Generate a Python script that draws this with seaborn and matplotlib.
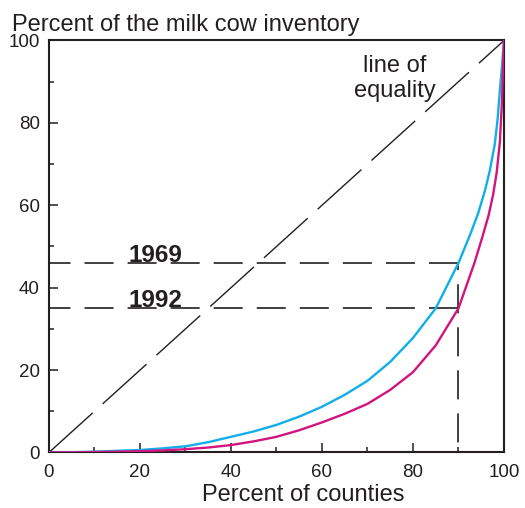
import matplotlib
matplotlib.use("Agg")
import matplotlib.pyplot as plt
import seaborn as sns
import pandas as pd

# Lorenz curves of the milk cow inventory across counties
pct_counties_1969 = [0, 5, 10, 15, 20, 25, 30, 35, 40, 45, 50, 55, 60, 65, 70, 75, 80, 85,
                     90, 92.6, 94.3, 95.8, 96.9, 98, 98.6, 99.1, 99.5, 100]
pct_inventory_1969 = [0, 0.05, 0.2, 0.4, 0.6, 1.0, 1.5, 2.5, 3.8, 5.1, 6.7, 8.7, 11.1, 14, 17.4,
                      22, 27.8, 35, 46, 53, 58, 63.5, 68.5, 75, 81, 88, 93, 100]

pct_counties_1992 = [0, 5, 10, 15, 20, 25, 30, 35, 40, 45, 50, 55, 60, 65, 70, 75, 80, 85,
                     90, 93.5, 95.3, 96.6, 97.6, 98.4, 99.1, 99.5, 100]
pct_inventory_1992 = [0, 0.02, 0.1, 0.2, 0.3, 0.5, 0.8, 1.2, 1.8, 2.7, 3.8, 5.4, 7.3, 9.4, 11.8,
                      15.2, 19.5, 26, 35, 46, 52.5, 57.5, 62.5, 68, 75.5, 84, 100]

years = ["1969", "1992"]
cutoff_counties = 90
share_at_cutoff = [46, 35]   # inventory share held below the 90th percentile of counties
tick_values = [0, 20, 40, 60, 80, 100]
minor_ticks = [10, 30, 50, 70, 90]

ink = "#231f20"
colors = {"1969": "#12aee8", "1992": "#d2157e"}

sns.set_theme(style="white")
plt.rcParams["font.family"] = ["Liberation Sans", "DejaVu Sans"]
plt.rcParams["lines.scale_dashes"] = False

df = pd.concat([
    pd.DataFrame({"counties": pct_counties_1969, "inventory": pct_inventory_1969, "year": "1969"}),
    pd.DataFrame({"counties": pct_counties_1992, "inventory": pct_inventory_1992, "year": "1992"}),
], ignore_index=True)

fig = plt.figure(figsize=(5.25, 5.08), dpi=100)
ax = fig.add_axes([0.0933, 0.1093, 0.8667, 0.811])

# line of equality
ax.plot([0, 100], [0, 100], color=ink, lw=1.0, linestyle=(0, (42.5, 9.7)), zorder=2)

# reference lines at the 90th percentile of counties
for year, share in zip(years, share_at_cutoff):
    ax.plot([cutoff_counties, 0], [share, share], color=ink, lw=1.2,
            linestyle=(0, (20.9, 10.1)), zorder=2)
ax.plot([cutoff_counties, cutoff_counties], [0, max(share_at_cutoff)], color=ink, lw=1.2,
        linestyle=(24.1, (20.9, 10.1)), zorder=2)

sns.lineplot(data=df, x="counties", y="inventory", hue="year", palette=colors,
             estimator=None, legend=False, lw=1.7, ax=ax, zorder=3)

for year, share in zip(years, share_at_cutoff):
    ax.text(17.4, share + 0.2, year, fontsize=17.5, fontweight="bold", color=ink,
            ha="left", va="baseline", zorder=4)

ax.text(76, 90.8, "line of\nequality", fontsize=17, color=ink, ha="center", va="center",
        multialignment="center", linespacing=1.15)

ax.set_xlim(0, 100)
ax.set_ylim(0, 100)
ax.set_xticks(tick_values)
ax.set_yticks(tick_values)
ax.set_xticks(minor_ticks, minor=True)
ax.set_yticks(minor_ticks, minor=True)
ax.tick_params(axis="both", which="both", bottom=True, left=True, top=False, right=False)
ax.tick_params(axis="both", which="major", direction="in", length=6.5, width=1.1,
               color=ink, labelcolor=ink, labelsize=13.5)
ax.tick_params(axis="both", which="minor", direction="in", length=3.5, width=1.1, color=ink)
ax.tick_params(axis="x", which="major", pad=8)
ax.tick_params(axis="y", which="major", pad=6.5)
ax.set_xlabel("")
ax.set_ylabel("")
for s in ax.spines.values():
    s.set_color(ink)
    s.set_linewidth(1.5)

fig.text(11.7 / 525, 1 - 30.5 / 508, "Percent of the milk cow inventory", fontsize=17,
         color=ink, ha="left", va="baseline")
fig.text(303.5 / 525, 1 - 500.7 / 508, "Percent of counties", fontsize=17,
         color=ink, ha="center", va="baseline")

fig.savefig("out.png", dpi=100)
